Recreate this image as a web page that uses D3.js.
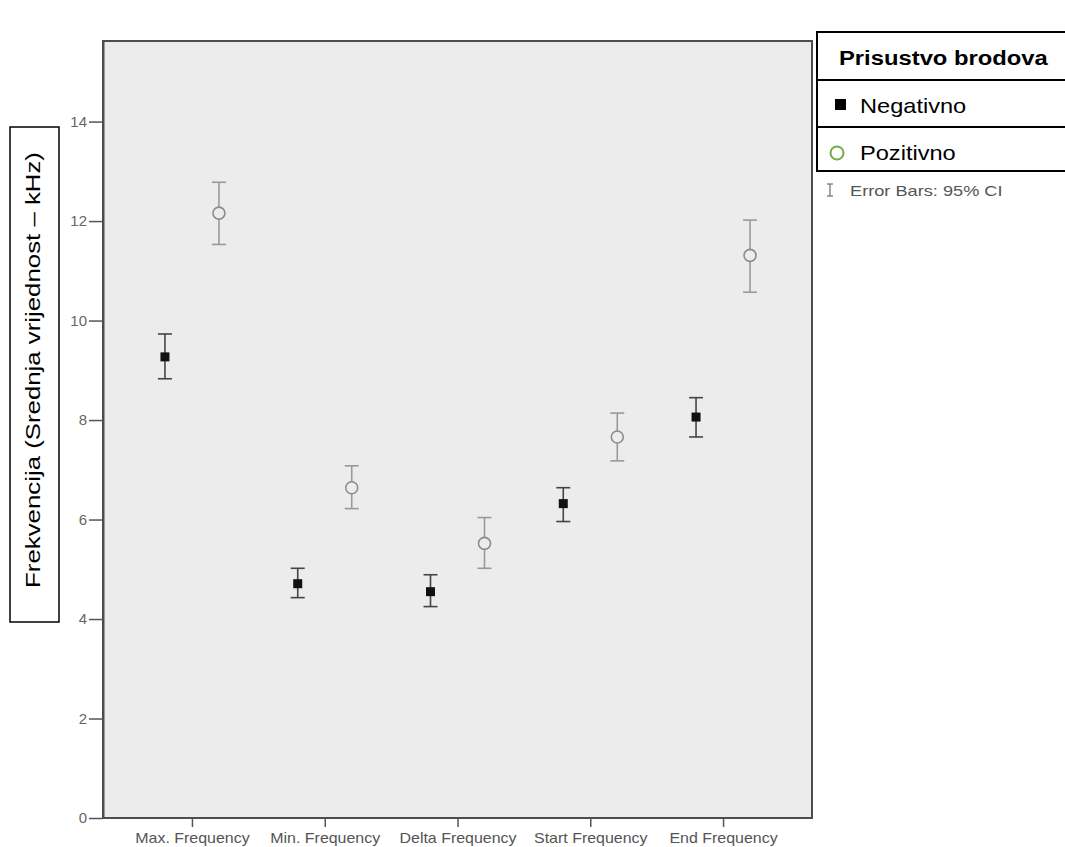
<!DOCTYPE html>
<html>
<head>
<meta charset="utf-8">
<script src="https://cdn.jsdelivr.net/npm/d3@7"></script>
<style>
  body { margin: 0; background: #fff; }
  text { font-family: Arial, "Liberation Sans", sans-serif; }
</style>
</head>
<body>
<div id="container"></div>
<script>
const categories = ["Max. Frequency", "Min. Frequency", "Delta Frequency", "Start Frequency", "End Frequency"];
const yTicks = [0, 2, 4, 6, 8, 10, 12, 14];

// Negativno: mean, lower CI, upper CI
const negMean = [9.27, 4.71, 4.55, 6.32, 8.06];
const negLow  = [8.83, 4.43, 4.25, 5.96, 7.66];
const negHigh = [9.73, 5.02, 4.89, 6.64, 8.45];

// Pozitivno
const posMean = [12.16, 6.64, 5.52, 7.66, 11.31];
const posLow  = [11.53, 6.22, 5.02, 7.18, 10.57];
const posHigh = [12.78, 7.08, 6.04, 8.14, 12.02];

const width = 1065, height = 847;
const margin = {top: 41, right: 253, bottom: 29, left: 103};

const svg = d3.create("svg")
    .attr("width", width)
    .attr("height", height);

const x = d3.scalePoint()
    .domain(categories)
    .range([margin.left, width - margin.right])
    .padding(0.67);

const y = d3.scaleLinear()
    .domain([0, 15.62])
    .range([height - margin.bottom, margin.top]);

// plot background
svg.append("rect")
    .attr("x", margin.left)
    .attr("y", margin.top)
    .attr("width", width - margin.right - margin.left)
    .attr("height", height - margin.bottom - margin.top)
    .attr("fill", "#ececec")
    .attr("stroke", "#4d4d4d")
    .attr("stroke-width", 2);

// y axis
const yAxis = svg.append("g")
    .attr("transform", `translate(${margin.left}, 0)`)
    .call(d3.axisLeft(y).tickValues(yTicks).tickSize(14).tickSizeOuter(0).tickPadding(2));
yAxis.select(".domain").attr("stroke", "#4d4d4d").attr("stroke-width", 2);
yAxis.selectAll(".tick line").attr("stroke", "#555").attr("stroke-width", 1.5);
yAxis.selectAll("text").attr("font-size", "15px").attr("fill", "#666")
    .attr("font-family", "Arial, 'Liberation Sans', sans-serif");

// x axis
const xAxis = svg.append("g")
    .attr("transform", `translate(0, ${height - margin.bottom})`)
    .call(d3.axisBottom(x).tickSize(9).tickPadding(6));
xAxis.select(".domain").remove();
xAxis.selectAll(".tick line").attr("stroke", "#555").attr("stroke-width", 1.5);
xAxis.selectAll("text").attr("font-size", "14px").attr("fill", "#555")
    .attr("transform", "scale(1.14,1)")
    .attr("font-family", "Arial, 'Liberation Sans', sans-serif");

const offset = 27;
const cap = 7;

function drawSeries(means, lows, highs, dx, color, kind) {
    const g = svg.append("g");
    const data = categories.map((c, i) => ({c, m: means[i], lo: lows[i], hi: highs[i]}));
    g.selectAll("line.bar").data(data).enter().append("line")
        .attr("x1", d => x(d.c) + dx).attr("x2", d => x(d.c) + dx)
        .attr("y1", d => y(d.lo)).attr("y2", d => y(d.hi))
        .attr("stroke", color).attr("stroke-width", 1.6);
    ["lo", "hi"].forEach(k => {
        g.selectAll("line.cap" + k).data(data).enter().append("line")
            .attr("x1", d => x(d.c) + dx - cap).attr("x2", d => x(d.c) + dx + cap)
            .attr("y1", d => y(d[k])).attr("y2", d => y(d[k]))
            .attr("stroke", color).attr("stroke-width", 1.6);
    });
    if (kind === "square") {
        g.selectAll("rect").data(data).enter().append("rect")
            .attr("x", d => x(d.c) + dx - 4.5).attr("y", d => y(d.m) - 4.5)
            .attr("width", 9).attr("height", 9)
            .attr("fill", "#111");
    } else {
        g.selectAll("circle").data(data).enter().append("circle")
            .attr("cx", d => x(d.c) + dx).attr("cy", d => y(d.m))
            .attr("r", 6)
            .attr("fill", "#ececec")
            .attr("stroke", "#8c8c8c").attr("stroke-width", 1.6);
    }
}

drawSeries(posMean, posLow, posHigh, offset, "#999", "circle");
drawSeries(negMean, negLow, negHigh, -offset, "#444", "square");

// y label box
svg.append("rect")
    .attr("x", 10).attr("y", 127)
    .attr("width", 49).attr("height", 495)
    .attr("fill", "#fff").attr("stroke", "#000").attr("stroke-width", 1.5);
svg.append("text")
    .attr("transform", "translate(40, 370) rotate(-90) scale(1.29,1)")
    .attr("text-anchor", "middle")
    .attr("font-size", "20px")
    .attr("fill", "#000")
    .text("Frekvencija (Srednja vrijednost – kHz)");

// legend
const lg = svg.append("g");
const lx = 817, lw = 250;
const rows = [32, 80, 127, 171];
lg.append("rect").attr("x", lx).attr("y", rows[0]).attr("width", lw).attr("height", rows[3] - rows[0])
    .attr("fill", "#fff").attr("stroke", "#000").attr("stroke-width", 2);
[rows[1], rows[2]].forEach(r => {
    lg.append("line").attr("x1", lx).attr("x2", lx + lw).attr("y1", r).attr("y2", r)
        .attr("stroke", "#000").attr("stroke-width", 2);
});
lg.append("text").attr("transform", "translate(839, 65) scale(1.19,1)")
    .attr("font-size", "20px").attr("font-weight", "bold").text("Prisustvo brodova");
lg.append("rect").attr("x", 835).attr("y", 99).attr("width", 11).attr("height", 11).attr("fill", "#000");
lg.append("text").attr("transform", "translate(860, 113) scale(1.18,1)")
    .attr("font-size", "20px").text("Negativno");
lg.append("circle").attr("cx", 837).attr("cy", 153).attr("r", 6.5)
    .attr("fill", "none").attr("stroke", "#70ad47").attr("stroke-width", 2);
lg.append("text").attr("transform", "translate(860, 160) scale(1.18,1)")
    .attr("font-size", "20px").text("Pozitivno");

// error bar note with small error-bar icon
const ib = lg.append("g").attr("stroke", "#777").attr("stroke-width", 1.3);
ib.append("line").attr("x1", 830).attr("x2", 830).attr("y1", 184).attr("y2", 196);
ib.append("line").attr("x1", 827).attr("x2", 833).attr("y1", 184).attr("y2", 184);
ib.append("line").attr("x1", 827).attr("x2", 833).attr("y1", 196).attr("y2", 196);
lg.append("text").attr("transform", "translate(850, 196) scale(1.3,1)")
    .attr("font-size", "14px").attr("fill", "#555")
    .text("Error Bars: 95% CI");

document.getElementById("container").append(svg.node());
</script>
</body>
</html>
